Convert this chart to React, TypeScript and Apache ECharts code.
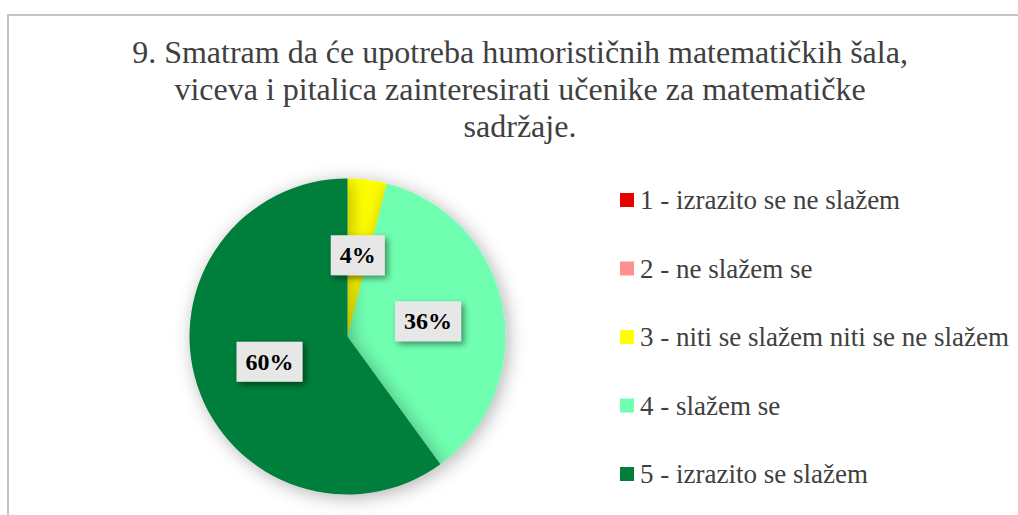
import React, { useEffect, useRef } from "react";
import * as echarts from "echarts";

const titleLines = [
  "9. Smatram da će upotreba humorističnih matematičkih šala,",
  "viceva i pitalica zainteresirati učenike za matematičke",
  "sadržaje.",
];
const categories = [
  "1 - izrazito se ne slažem",
  "2 - ne slažem se",
  "3 - niti se slažem niti se ne slažem",
  "4 - slažem se",
  "5 - izrazito se slažem",
];
const values = [0, 0, 4, 36, 60];
const colors = ["#e60000", "#ff9090", "#ffff00", "#6fffb0", "#007e3a"];

export default function App() {
  const ref = useRef<HTMLDivElement>(null);
  useEffect(() => {
    if (!ref.current) return;
    const chart = echarts.init(ref.current, undefined, { renderer: "svg" });
    const serif = "Liberation Serif";
    chart.setOption({
      animation: false,
      backgroundColor: "#ffffff",
      title: {
        text: titleLines.join("\n"),
        left: 520,
        top: 33,
        padding: 0,
        textAlign: "center",
        textStyle: {
          fontFamily: serif,
          fontSize: 32,
          fontWeight: "normal",
          color: "#404040",
          lineHeight: 37,
        },
      },
      graphic: [
        {
          type: "rect",
          shape: { x: 8, y: 15, width: 1030, height: 530 },
          style: { fill: "none", stroke: "#c4c4c4", lineWidth: 2 },
          silent: true,
        },
      ],
      legend: {
        orient: "vertical",
        left: 620,
        top: 186.5,
        padding: 0,
        itemWidth: 14,
        itemHeight: 14,
        itemGap: 41.5,
        icon: "rect",
        textStyle: {
          fontFamily: serif,
          fontSize: 27,
          lineHeight: 27,
          color: "#404040",
          padding: [0, 0, 0, 1],
        },
        data: categories,
      },
      series: [
        {
          type: "pie",
          center: [347.5, 336.5],
          radius: [0, 158],
          startAngle: 90,
          clockwise: true,
          avoidLabelOverlap: false,
          itemStyle: {
            shadowBlur: 18,
            shadowColor: "rgba(0,0,0,0.3)",
            shadowOffsetX: 3,
            shadowOffsetY: 3,
          },
          label: {
            show: true,
            position: "inside",
            formatter: (p: any) => Math.round(p.percent) + "%",
            fontFamily: serif,
            fontSize: 24,
            fontWeight: "bold",
            color: "#000000",
            lineHeight: 24,
            backgroundColor: "#e7e7e7",
            padding: [9, 9, 7, 9],
            shadowBlur: 6,
            shadowColor: "rgba(0,0,0,0.45)",
            shadowOffsetX: 3,
            shadowOffsetY: 3,
          },
          labelLine: { show: false },
          emphasis: { disabled: true },
          data: categories.map((name, i) => ({
            name,
            value: values[i],
            itemStyle: { color: colors[i] },
            label: { show: values[i] > 0 },
          })),
        },
      ],
    });
    return () => chart.dispose();
  }, []);
  return (
    <div
      ref={ref}
      style={{ position: "absolute", left: 0, top: 0, width: 1018, height: 515 }}
    />
  );
}
